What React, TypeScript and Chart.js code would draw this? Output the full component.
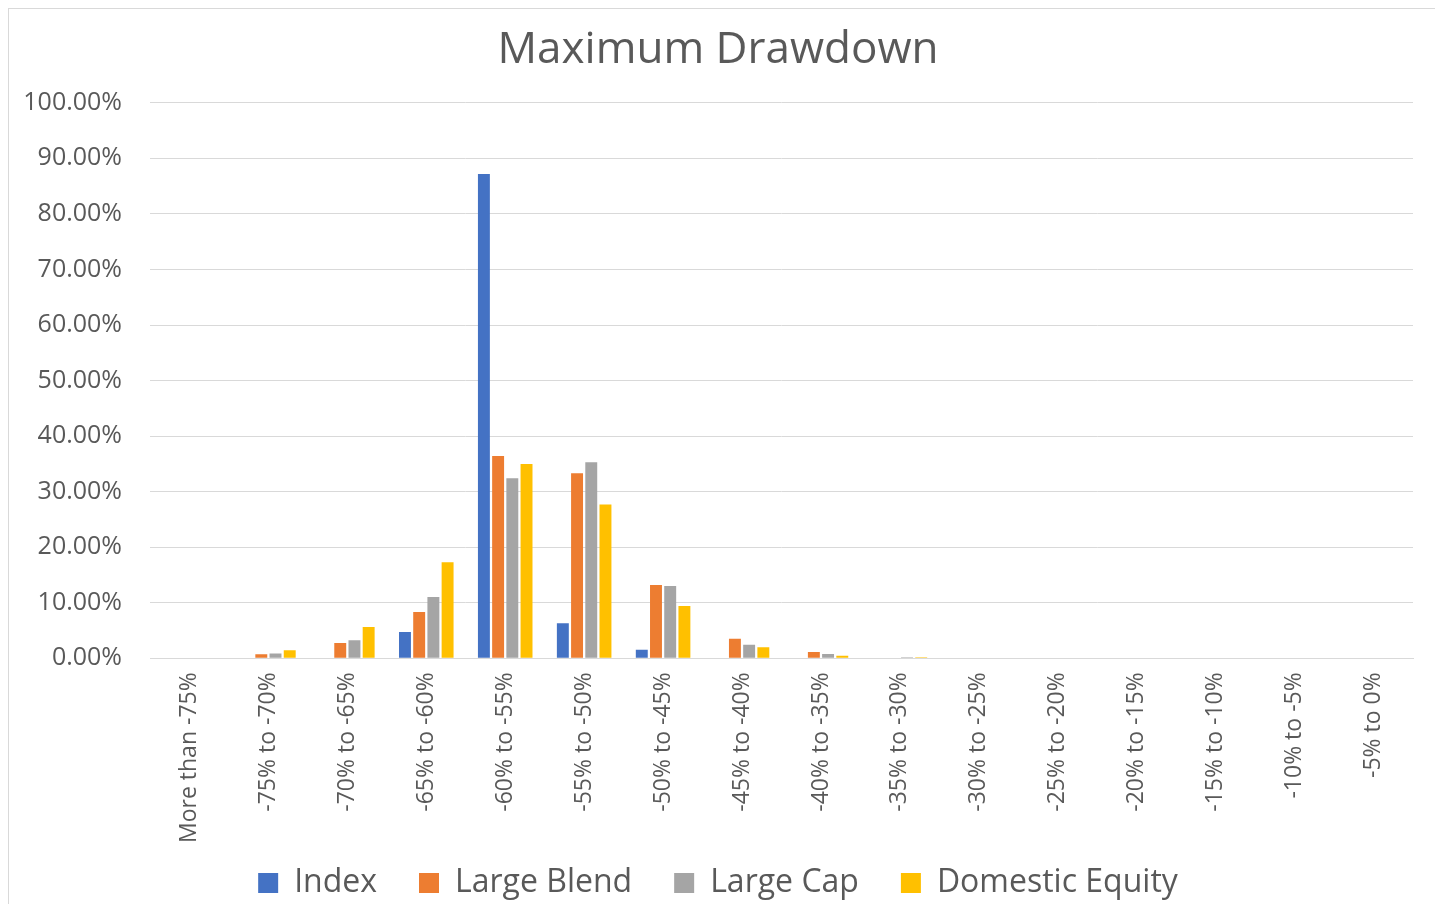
import React, { useEffect, useRef } from "react";
import { Chart, registerables } from "chart.js";

Chart.register(...registerables);

const categories = [
  "More than -75%", "-75% to -70%", "-70% to -65%", "-65% to -60%", "-60% to -55%",
  "-55% to -50%", "-50% to -45%", "-45% to -40%", "-40% to -35%", "-35% to -30%",
  "-30% to -25%", "-25% to -20%", "-20% to -15%", "-15% to -10%", "-10% to -5%", "-5% to 0%",
];

const indexValues = [0, 0, 0, 4.75, 87.2, 6.3, 1.55, 0, 0, 0, 0, 0, 0, 0, 0, 0];
const largeBlendValues = [0, 0.72, 2.77, 8.35, 36.4, 33.3, 13.2, 3.5, 1.14, 0, 0, 0, 0, 0, 0, 0];
const largeCapValues = [0, 0.85, 3.24, 11.05, 32.4, 35.3, 13.0, 2.46, 0.78, 0.2, 0, 0, 0, 0, 0.1, 0];
const domesticEquityValues = [0, 1.44, 5.65, 17.3, 35.0, 27.7, 9.4, 1.98, 0.48, 0.2, 0.12, 0, 0, 0, 0, 0];

const seriesNames = ["Index", "Large Blend", "Large Cap", "Domestic Equity"];
const seriesColors = ["#4472C4", "#ED7D31", "#A5A5A5", "#FFC000"];

const FONT = "'Open Sans', sans-serif";
const TEXT = "#595959";

export default function App() {
  const ref = useRef<HTMLCanvasElement | null>(null);
  useEffect(() => {
    if (!ref.current) return;
    const values = [indexValues, largeBlendValues, largeCapValues, domesticEquityValues];
    const chart = new Chart(ref.current, {
      type: "bar",
      data: {
        labels: categories,
        datasets: values.map((v, i) => ({
          label: seriesNames[i],
          data: v,
          backgroundColor: seriesColors[i],
          borderWidth: 0,
          categoryPercentage: 0.72,
          barPercentage: 0.84,
        })),
      },
      options: {
        responsive: true,
        maintainAspectRatio: false,
        animation: false,
        layout: { padding: { left: 14, right: 22, top: 8, bottom: 2 } },
        plugins: {
          title: {
            display: true,
            text: "Maximum Drawdown",
            color: TEXT,
            font: { family: FONT, size: 44, weight: "normal" },
            padding: { top: 7, bottom: 26 },
          },
          legend: {
            position: "bottom",
            labels: {
              color: TEXT,
              font: { family: FONT, size: 32 },
              boxWidth: 20,
              boxHeight: 20,
              padding: 10,
              generateLabels: (c: any) => {
                const items = Chart.defaults.plugins.legend.labels.generateLabels(c);
                return items.map((it: any, i: number) => ({
                  ...it,
                  text: i < items.length - 1 ? it.text + "\u2003" : it.text,
                  lineWidth: 0,
                }));
              },
            },
          },
          tooltip: { enabled: false },
        },
        scales: {
          x: {
            grid: { display: false, drawTicks: false },
            border: { color: "#d9d9d9", width: 1 },
            ticks: {
              color: TEXT,
              font: { family: FONT, size: 23 },
              minRotation: 90,
              maxRotation: 90,
              padding: 14,
              autoSkip: false,
            },
          },
          y: {
            min: 0,
            max: 100,
            grid: { color: "#d9d9d9", lineWidth: 1, drawTicks: false },
            border: { display: false },
            afterFit: (scale: any) => {
              scale.width = 127;
            },
            ticks: {
              stepSize: 10,
              color: TEXT,
              font: { family: FONT, size: 25 },
              padding: 28,
              callback: (v: any) => Number(v).toFixed(2) + "%",
            },
          },
        },
      },
    });
    return () => chart.destroy();
  }, []);
  return (
    <div
      style={{
        position: "relative",
        width: 1428,
        height: 904,
        boxSizing: "border-box",
        border: "1px solid #d9d9d9",
        marginBottom: -8,
        background: "#fff",
      }}
    >
      <canvas ref={ref} />
    </div>
  );
}
